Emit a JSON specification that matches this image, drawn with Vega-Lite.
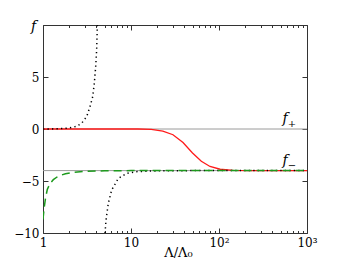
{
  "$schema": "https://vega.github.io/schema/vega-lite/v6.json",
  "width": 264,
  "height": 208,
  "autosize": "none",
  "padding": {"left": 43, "top": 25, "right": 34, "bottom": 27},
  "config": {
    "view": {"stroke": null},
    "font": "DejaVu Serif",
    "axis": {
      "grid": false,
      "domainColor": "#333",
      "domainWidth": 1,
      "tickColor": "#333",
      "tickWidth": 1,
      "labelFont": "DejaVu Serif",
      "labelFontSize": 12,
      "labelColor": "#000",
      "labelPadding": 9,
      "titleFont": "DejaVu Serif",
      "titleColor": "#000",
      "titleFontWeight": "normal"
    }
  },
  "datasets": {
    "refs": [{"y": 0}, {"y": -4}],
    "red": [
      {"x": 1, "y": 0}, {"x": 12, "y": 0}, {"x": 17, "y": -0.04}, {"x": 23, "y": -0.2},
      {"x": 30, "y": -0.55}, {"x": 39, "y": -1.3}, {"x": 50, "y": -2.3}, {"x": 63, "y": -3.1},
      {"x": 79, "y": -3.6}, {"x": 103, "y": -3.87}, {"x": 145, "y": -3.98}, {"x": 230, "y": -4},
      {"x": 1000, "y": -4}
    ],
    "green": [
      {"x": 1, "y": -8.7}, {"x": 1.03, "y": -7.6}, {"x": 1.07, "y": -6.6}, {"x": 1.12, "y": -5.8},
      {"x": 1.2, "y": -5.25}, {"x": 1.31, "y": -4.87}, {"x": 1.5, "y": -4.52}, {"x": 1.8, "y": -4.3},
      {"x": 2.2, "y": -4.16}, {"x": 3, "y": -4.07}, {"x": 5, "y": -4.02}, {"x": 10, "y": -4},
      {"x": 1000, "y": -4}
    ],
    "dot1": [
      {"x": 1, "y": 0}, {"x": 1.5, "y": 0.02}, {"x": 2, "y": 0.1}, {"x": 2.4, "y": 0.25},
      {"x": 2.75, "y": 0.55}, {"x": 3.14, "y": 1.2}, {"x": 3.42, "y": 2.15}, {"x": 3.67, "y": 3.1},
      {"x": 3.83, "y": 4.4}, {"x": 3.97, "y": 6.0}, {"x": 4.07, "y": 7.6}, {"x": 4.14, "y": 9.8},
      {"x": 4.15, "y": 10}
    ],
    "dot2": [
      {"x": 5.07, "y": -10}, {"x": 5.2, "y": -8.75}, {"x": 5.52, "y": -7.15}, {"x": 6.03, "y": -5.87},
      {"x": 7.18, "y": -4.75}, {"x": 8.9, "y": -4.27}, {"x": 11.6, "y": -4.1}, {"x": 20, "y": -4.02},
      {"x": 50, "y": -4}, {"x": 1000, "y": -4}
    ],
    "labels": [
      {"x": 562, "y": 0, "t": "f", "s": "+"},
      {"x": 562, "y": -4, "t": "f", "s": "−"}
    ]
  },
  "resolve": {"axis": {"x": "independent", "y": "independent"}},
  "layer": [
    {
      "data": {"name": "refs"},
      "mark": {"type": "rule", "color": "#9a9a9a", "strokeWidth": 1},
      "encoding": {
        "y": {"field": "y", "type": "quantitative", "scale": {"domain": [-10, 10], "nice": false, "zero": false}, "axis": null}
      }
    },
    {
      "data": {"name": "red"},
      "mark": {"type": "line", "color": "#ff1a1a", "strokeWidth": 1.3, "clip": true},
      "encoding": {
        "x": {
          "field": "x", "type": "quantitative",
          "scale": {"type": "log", "domain": [1, 1000], "nice": false},
          "axis": {
            "orient": "bottom",
            "values": [1,2,3,4,5,6,7,8,9,10,20,30,40,50,60,70,80,90,100,200,300,400,500,600,700,800,900,1000],
            "labelExpr": "datum.value == 1 ? '1' : datum.value == 10 ? '10' : datum.value == 100 ? '10²' : datum.value == 1000 ? '10³' : ''",
            "labelOverlap": false,
            "labelFlush": false,
            "tickSize": {"condition": {"test": "abs(log(datum.value)/LN10 - round(log(datum.value)/LN10)) < 0.001", "value": -5}, "value": -2.5},
            "title": "Λ/Λ₀",
            "titleFontSize": 13,
            "titleBaseline": "middle",
            "titleY": 19,
            "titleX": 135
          }
        },
        "y": {
          "field": "y", "type": "quantitative",
          "scale": {"domain": [-10, 10], "nice": false, "zero": false},
          "axis": {
            "orient": "left",
            "values": [-10, -5, 0, 5, 10],
            "labelExpr": "datum.value == 10 ? '' : datum.label",
            "tickSize": -5,
            "title": "f",
            "titleFontStyle": "italic",
            "titleFontSize": 14,
            "titleAngle": 0,
            "titleAlign": "center",
            "titleBaseline": "middle",
            "titleX": -10,
            "titleY": 1
          }
        }
      }
    },
    {
      "data": {"name": "dot1"},
      "mark": {"type": "line", "color": "#000", "strokeWidth": 1.5, "strokeDash": [1.3, 3.2], "clip": true},
      "encoding": {
        "x": {"field": "x", "type": "quantitative", "scale": {"type": "log", "domain": [1, 1000], "nice": false}, "axis": null},
        "y": {"field": "y", "type": "quantitative", "scale": {"domain": [-10, 10], "nice": false, "zero": false}, "axis": null}
      }
    },
    {
      "data": {"name": "dot2"},
      "mark": {"type": "line", "color": "#000", "strokeWidth": 1.5, "strokeDash": [1.3, 3.2], "clip": true},
      "encoding": {
        "x": {"field": "x", "type": "quantitative", "scale": {"type": "log", "domain": [1, 1000], "nice": false}, "axis": null},
        "y": {"field": "y", "type": "quantitative", "scale": {"domain": [-10, 10], "nice": false, "zero": false}, "axis": null}
      }
    },
    {
      "data": {"name": "green"},
      "mark": {"type": "line", "color": "#1d9a1d", "strokeWidth": 1.5, "strokeDash": [8, 5], "clip": true},
      "encoding": {
        "x": {
          "field": "x", "type": "quantitative",
          "scale": {"type": "log", "domain": [1, 1000], "nice": false},
          "axis": {
            "orient": "top",
            "values": [1,2,3,4,5,6,7,8,9,10,20,30,40,50,60,70,80,90,100,200,300,400,500,600,700,800,900,1000],
            "labels": false,
            "title": null,
            "tickSize": {"condition": {"test": "abs(log(datum.value)/LN10 - round(log(datum.value)/LN10)) < 0.001", "value": -5}, "value": -2.5}
          }
        },
        "y": {
          "field": "y", "type": "quantitative",
          "scale": {"domain": [-10, 10], "nice": false, "zero": false},
          "axis": {"orient": "right", "values": [-10, -5, 0, 5, 10], "labels": false, "title": null, "tickSize": -5}
        }
      }
    },
    {
      "data": {"name": "labels"},
      "mark": {"type": "text", "font": "DejaVu Serif", "fontStyle": "italic", "fontSize": 14, "align": "center", "baseline": "alphabetic", "dy": -6, "color": "#000"},
      "encoding": {
        "x": {"field": "x", "type": "quantitative", "scale": {"type": "log", "domain": [1, 1000], "nice": false}, "axis": null},
        "y": {"field": "y", "type": "quantitative", "scale": {"domain": [-10, 10], "nice": false, "zero": false}, "axis": null},
        "text": {"field": "t"}
      }
    },
    {
      "data": {"name": "labels"},
      "mark": {"type": "text", "font": "DejaVu Serif", "fontSize": 10, "align": "center", "baseline": "middle", "dx": 7, "dy": -5, "color": "#000"},
      "encoding": {
        "x": {"field": "x", "type": "quantitative", "scale": {"type": "log", "domain": [1, 1000], "nice": false}, "axis": null},
        "y": {"field": "y", "type": "quantitative", "scale": {"domain": [-10, 10], "nice": false, "zero": false}, "axis": null},
        "text": {"field": "s"}
      }
    }
  ]
}
